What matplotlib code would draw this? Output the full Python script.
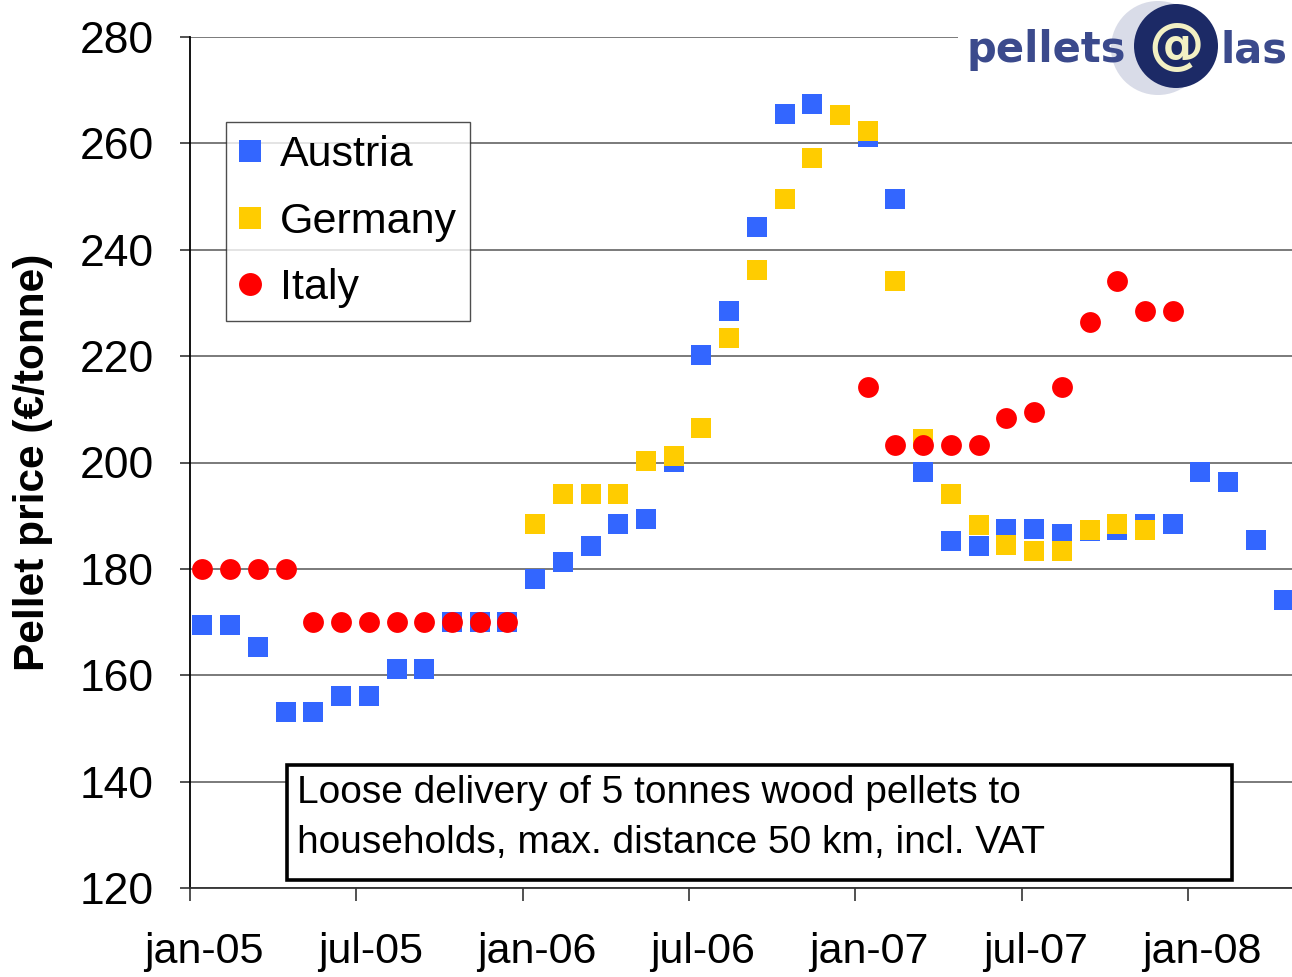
import numpy as np
import matplotlib
matplotlib.use("Agg")
import matplotlib.pyplot as plt
from matplotlib.patches import Rectangle, Circle

plt.rcParams['font.family'] = ['Liberation Sans', 'DejaVu Sans']

# monthly prices, jan-05 .. apr-08 (index 0 = jan-05)
austria = [169.5, 169.5, 165.3, 153.1, 153.1, 156.1, 156.1, 161.2, 161.2, 170, 170, 170,
           178.1, 181.3, 184.3, 188.5, 189.4, 200.1, 220.2, 228.5, 244.3, 265.5, 267.4, 265.3,
           261.2, 249.5, 198.2, 185.3, 184.3, 187.5, 187.5, 186.6, 187.1, 187.3, 188.5, 188.5,
           198.2, 196.4, 185.5, 174.2]
germany_start = 12
germany = [188.5, 194.1, 194.1, 194.1, 200.3, 201.2, 206.5, 223.4, 236.2, 249.5, 257.3, 265.3,
           262.3, 234.1, 204.4, 194.1, 188.3, 184.5, 183.4, 183.4, 187.3, 188.5, 187.3]
italy_idx = [0, 1, 2, 3, 4, 5, 6, 7, 8, 9, 10, 11,
             24, 25, 26, 27, 28, 29, 30, 31, 32, 33, 34, 35]
italy = [180, 180, 180, 180, 170, 170, 170, 170, 170, 170, 170, 170,
         214.2, 203.3, 203.3, 203.3, 203.3, 208.4, 209.5, 214.2, 226.4, 234.1, 228.5, 228.5]
tick_labels = ['jan-05', 'jul-05', 'jan-06', 'jul-06', 'jan-07', 'jul-07', 'jan-08']

W, H = 1292, 977
fig = plt.figure(figsize=(W / 100, H / 100), dpi=100)
ax = fig.add_axes([190 / W, 1 - 888 / H, 1102 / W, 851 / H])

x_a = np.arange(len(austria)) + 0.45
x_g = np.arange(germany_start, germany_start + len(germany)) + 0.45
x_i = np.array(italy_idx) + 0.45

ms = 15
ax.plot(x_a, austria, 's', color='#3366FF', ms=ms, mew=0, label='Austria', zorder=3)
ax.plot(x_g, germany, 's', color='#FFCC00', ms=ms, mew=0, label='Germany', zorder=4)
ax.plot(x_i, italy, 'o', color='#FF0000', ms=ms, mew=0, label='Italy', zorder=5)

ax.set_xlim(0, 1102 / 27.72)
ax.set_ylim(120, 280)
ax.set_yticks(np.arange(120, 281, 20))
ax.yaxis.grid(True, color='#707070', lw=1.3)
ax.set_axisbelow(True)

# major ticks at month boundaries, labels centred on the month
ax.set_xticks(np.arange(0, 37, 6))
ax.set_xticklabels([])
ax.set_xticks(np.arange(0, 37, 6) + 0.5, minor=True)
ax.set_xticklabels(tick_labels, minor=True)
ax.tick_params(axis='x', which='major', direction='out', length=9, width=1.2, color='#333333')
ax.tick_params(axis='x', which='minor', length=0, pad=32, labelsize=31)
ax.tick_params(axis='y', direction='out', length=7, width=1.2, color='#333333', pad=19, labelsize=32)

for s in ['top', 'right']:
    ax.spines[s].set_visible(False)
ax.spines['left'].set_color('black')
ax.spines['left'].set_linewidth(1.3)
ax.spines['bottom'].set_color('#333333')
ax.spines['bottom'].set_linewidth(1.3)

ax.set_ylabel('Pellet price (€/tonne)', fontsize=30.5, fontweight='bold', labelpad=19)

leg = ax.legend(loc='upper left', bbox_to_anchor=(0.0327, 0.900), borderaxespad=0,
                fontsize=31, frameon=True, fancybox=False, edgecolor='#222222',
                handlelength=0.5, handletextpad=0.45, labelspacing=0.62, borderpad=0.3,
                markerscale=1.1)
leg.get_frame().set_linewidth(1.0)
leg.set_zorder(10)

# note box
ax.add_patch(Rectangle((0.088, 0.0094), 0.8576, 0.1351, transform=ax.transAxes,
                       facecolor='white', edgecolor='black', lw=2.6, zorder=8))
ax.text(0.097, 0.1330, 'Loose delivery of 5 tonnes wood pellets to\nhouseholds, max. distance 50 km, incl. VAT',
        transform=ax.transAxes, fontsize=28, va='top', ha='left', linespacing=1.5, zorder=9)

# logo
lax = fig.add_axes([958 / W, 1 - 100 / H, 334 / W, 100 / H])
lax.set_xlim(958, 1292)
lax.set_ylim(100, 0)
lax.set_aspect('equal')
lax.axis('off')
lax.add_patch(Rectangle((958, 0), 334, 100, facecolor='white', edgecolor='none'))
lax.add_patch(Circle((1158, 48), 47, facecolor='#d9dce8', edgecolor='none'))
lax.add_patch(Circle((1176, 46), 42, facecolor='#1c2a66', edgecolor='none'))
lax.text(966, 50, 'pellets', fontsize=30, fontweight='bold', color='#3b4a8c',
         family='DejaVu Sans', va='center', ha='left')
lax.text(1176, 47, '@', fontsize=40, fontweight='bold', color='#f2f0c4',
         family='DejaVu Sans', va='center', ha='center')
lax.text(1220, 50, 'las', fontsize=30, fontweight='bold', color='#3b4a8c',
         family='DejaVu Sans', va='center', ha='left')

fig.savefig('out.png', dpi=100)
